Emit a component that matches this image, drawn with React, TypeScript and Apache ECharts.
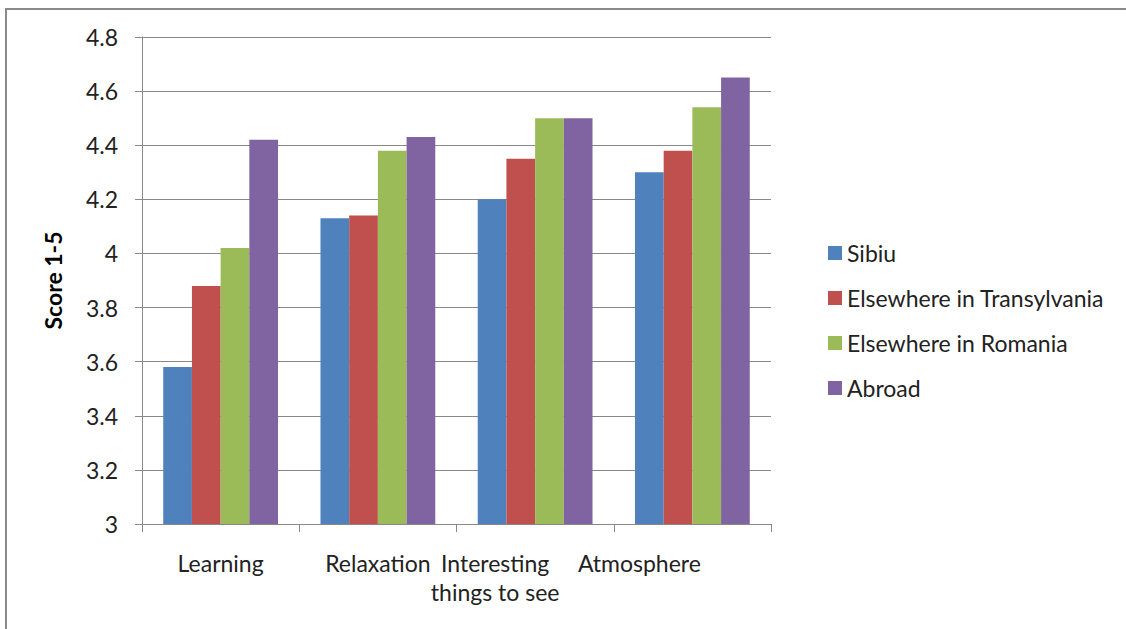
import React, { useEffect, useRef } from "react";
import * as echarts from "echarts";

const categories = ["Learning", "Relaxation", "Interesting things to see", "Atmosphere"];
const seriesNames = ["Sibiu", "Elsewhere in Transylvania", "Elsewhere in Romania", "Abroad"];
const sibiu = [3.58, 4.13, 4.2, 4.3];
const transylvania = [3.88, 4.14, 4.35, 4.38];
const romania = [4.02, 4.38, 4.5, 4.54];
const abroad = [4.42, 4.43, 4.5, 4.65];
const seriesValues = [sibiu, transylvania, romania, abroad];
const colors = ["#4F81BD", "#C0504D", "#9BBB59", "#8064A2"];

const FONT = "Lato";
const FS = 23;

export default function App() {
  const ref = useRef<HTMLDivElement>(null);
  useEffect(() => {
    if (!ref.current) return;
    const chart = echarts.init(ref.current, undefined, { renderer: "svg" });
    chart.setOption({
      animation: false,
      backgroundColor: "#fff",
      textStyle: { fontFamily: FONT },
      graphic: [
        {
          type: "rect",
          shape: { x: 6, y: 9, width: 1300, height: 800 },
          style: { fill: "none", stroke: "#8a8a8a", lineWidth: 2 },
          silent: true,
        },
      ],
      grid: { left: 142, right: 355, top: 37, bottom: 105 },
      legend: {
        orient: "vertical",
        left: 823,
        top: 236,
        itemWidth: 14,
        itemHeight: 14,
        itemGap: 21,
        icon: "rect",
        textStyle: { fontFamily: FONT, fontSize: FS, color: "#222", lineHeight: 24 },
        data: seriesNames,
      },
      xAxis: {
        type: "category",
        data: categories,
        axisLine: { lineStyle: { color: "#888", width: 1 } },
        axisTick: { show: true, length: 8, lineStyle: { color: "#888" } },
        axisLabel: {
          interval: 0,
          margin: 24,
          color: "#222",
          fontFamily: FONT,
          fontSize: FS,
          lineHeight: 29,
          formatter: (v: string) => {
            if (v === "Interesting things to see") return "{b|Interesting}\n{b|things to see}";
            if (v === "Atmosphere") return "{c|Atmosphere}";
            return v;
          },
          rich: {
            b: { fontFamily: FONT, fontSize: FS, color: "#222", lineHeight: 29, padding: [0, 80, 0, 0] },
            c: { fontFamily: FONT, fontSize: FS, color: "#222", lineHeight: 29, padding: [0, 106, 0, 0] },
          },
        },
      },
      yAxis: {
        type: "value",
        min: 3,
        max: 4.8,
        interval: 0.2,
        name: "Score 1-5",
        nameLocation: "middle",
        nameGap: 78,
        nameTextStyle: { fontFamily: FONT, fontSize: 23, fontWeight: "bold", color: "#000" },
        axisLine: { show: true, lineStyle: { color: "#888" } },
        axisTick: { show: true, length: 7, lineStyle: { color: "#888" } },
        axisLabel: {
          margin: 24,
          color: "#222",
          fontFamily: FONT,
          fontSize: FS,
          formatter: (v: number) => String(Math.round(v * 10) / 10),
        },
        splitLine: { lineStyle: { color: "#888", width: 1 } },
      },
      series: seriesNames.map((name, i) => ({
        name,
        type: "bar",
        data: seriesValues[i],
        itemStyle: { color: colors[i] },
        barGap: "0%",
        barCategoryGap: "27%",
      })),
    });
    return () => chart.dispose();
  }, []);
  return (
    <div
      ref={ref}
      style={{ position: "fixed", left: 0, top: 0, width: 1126, height: 629 }}
    />
  );
}
